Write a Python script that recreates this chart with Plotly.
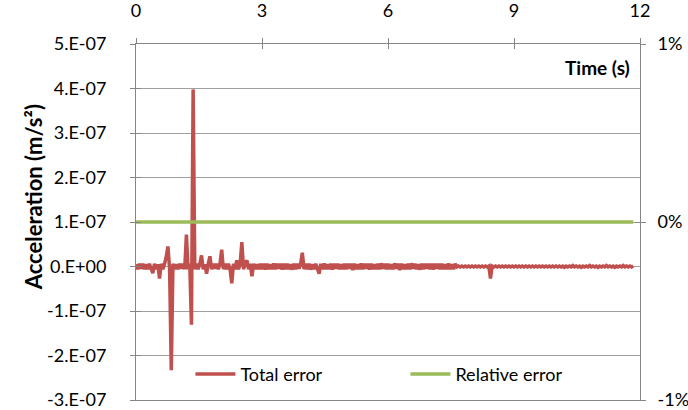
import numpy as np
import plotly.graph_objects as go

# Sample times (s), 25 Hz
time_s = np.round(np.arange(297) * 0.04, 2)

# Total acceleration error, in nm/s² (1e-9 m/s²), one row per second
total_error_nm = (
    [5, -6, 6, -5, 6, -6, 5, -6, 6, -5, -15, 6, -6, 5, -27, 6, -6, 6, 22, 45, -5, -233, 6, -6, 5]
    + [-6, 6, -5, 6, -6, 72, -6, 6, -131, 398, -6, 6, -6, 6, 25, -6, 5, -16, 6, 23, -6, 6, -5, 6, -6]
    + [6, 38, -6, 6, -6, 6, -6, -38, 6, -6, 14, -6, 6, 55, -6, 6, 14, -6, 6, -22, 6, -6, 5, -6, 6]
    + [-6, 6, -7, 6, -6, 5, -6, 7, -6, 6, -5, 6, -7, 6, -6, 6, -6, 5, -7, 6, -6, 6, -5, 6, 31]
    + [-6, 6, -6, 6, -7, 5, -6, 6, -5, -16, 6, -6, 7, -6, 5, -6, 6, -7, 6, -5, 6, -6, 5, -6, 6]
    + [-6, 6, -5, 6, -8, 6, -6, 5, -6, 7, -6, 6, -5, 6, -7, 6, -6, 5, -6, 6, -6, 7, -5, 6, -6]
    + [6, -6, 5, -6, 7, -5, 6, -8, 6, -6, 5, -6, 6, -6, 7, -5, 6, -6, 5, -7, 6, -6, 6, -5, 6]
    + [-6, 6, -7, 6, -5, 6, -6, 6, -6, 5, -6, 7, -6, 5, -6, 6, -1, 1, -1, 1, -1, 1, -1, 1, -1]
    + [1, -1, 1, -1, 1, -1, 1, -1, 1, -1, 1, -27, 1, -1, 1, -1, 1, -1, 1, -1, 1, -1, 1, -1, 1]
    + [-1, 1, -1, 1, -1, 1, -1, 1, -1, 1, -1, 1, -1, 1, -1, 1, -1, 1, -1, 1, -1, 1, -1, 1, -1]
    + [1, -1, 1, -1, 1, -2, 1, -1, 1, -1, 2, -1, 1, -1, 1, -2, 1, -1, 1, -1, 2, -1, 1, -1, 1]
    + [-2, 1, -1, 1, -1, 2, -1, 1, -1, 1, -2, 1, -1, 1, -1, 2, -1, 1, -1, 1, -1, 1]
)

# Relative error (fraction) over the same time span
rel_time_s = [0.0, 11.84]
rel_error = [0.0, 0.0]

# Axis ticks
x_ticks = [0, 3, 6, 9, 12]
y_ticks = [-3e-7, -2e-7, -1e-7, 0, 1e-7, 2e-7, 3e-7, 4e-7, 5e-7]
y_tick_text = ["-3.E-07", "-2.E-07", "-1.E-07", "0.E+00", "1.E-07",
               "2.E-07", "3.E-07", "4.E-07", "5.E-07"]
y2_ticks = [-0.01, 0, 0.01]
y2_tick_text = ["-1%", "0%", "1%"]

Y_RANGE = [-3e-7, 5e-7]
Y2_RANGE = [-0.01, 0.01]

FONT = "Lato"
AXIS = "#868686"
GRID = "#a0a0a0"
RED = "#C0504D"
GREEN = "#9BBB59"

fig = go.Figure()
fig.add_trace(go.Scatter(
    x=time_s, y=np.array(total_error_nm) * 1e-9, mode="lines",
    name="Total error", line=dict(color=RED, width=3.5, simplify=False),
))
fig.add_trace(go.Scatter(
    x=rel_time_s, y=rel_error, mode="lines", yaxis="y2",
    name="Relative error", line=dict(color=GREEN, width=3.5),
))
# empty traces so the tick-only overlay axes get drawn
fig.add_trace(go.Scatter(x=[None], y=[None], xaxis="x2", yaxis="y3",
                         showlegend=False, hoverinfo="skip"))
fig.add_trace(go.Scatter(x=[None], y=[None], xaxis="x2", yaxis="y4",
                         showlegend=False, hoverinfo="skip"))

tick_font = dict(family=FONT, size=18, color="#000000")

fig.update_layout(
    width=688, height=410,
    margin=dict(l=136, r=48, t=44, b=10, autoexpand=False),
    paper_bgcolor="white", plot_bgcolor="white",
    font=dict(family=FONT, size=18, color="#000000"),
    showlegend=True,
    legend=dict(
        orientation="h", x=0.108, y=0.02, xanchor="left", yanchor="bottom",
        bgcolor="rgba(0,0,0,0)", font=dict(family=FONT, size=18),
        entrywidth=160, itemwidth=40,
    ),
    xaxis=dict(
        side="top", range=[0, 12], tickvals=x_ticks, ticks="outside",
        ticklen=5, tickcolor=AXIS, showline=True, linecolor=AXIS,
        linewidth=1, mirror=True, showgrid=False, zeroline=False,
        tickfont=tick_font, ticklabelstandoff=14, anchor="y",
        automargin=False,
    ),
    xaxis2=dict(
        overlaying="x", side="top", range=[0, 12], tickvals=x_ticks,
        ticks="inside", ticklen=5, tickcolor=AXIS, showline=False,
        showticklabels=False, showgrid=False, zeroline=False, anchor="y",
        automargin=False,
    ),
    yaxis=dict(
        range=Y_RANGE, tickvals=y_ticks, ticktext=y_tick_text,
        ticks="outside", ticklen=5, tickcolor=AXIS, showline=True,
        linecolor=AXIS, linewidth=1, showgrid=True, gridcolor=GRID,
        gridwidth=1, zeroline=False, tickfont=tick_font,
        ticklabelstandoff=20, ticklabeloverflow="allow", automargin=False,
    ),
    yaxis2=dict(
        overlaying="y", side="right", range=Y2_RANGE,
        tickvals=y2_ticks, ticktext=y2_tick_text, ticks="outside",
        ticklen=5, tickcolor=AXIS, showline=True, linecolor=AXIS,
        linewidth=1, showgrid=False, zeroline=False, tickfont=tick_font,
        ticklabelstandoff=8, ticklabeloverflow="allow", automargin=False,
    ),
    yaxis3=dict(
        overlaying="y", side="left", range=Y_RANGE, tickvals=y_ticks,
        ticks="inside", ticklen=5, tickcolor=AXIS, showticklabels=False,
        showline=False, showgrid=False, zeroline=False, anchor="x2",
        automargin=False,
    ),
    yaxis4=dict(
        overlaying="y", side="right", range=Y2_RANGE, tickvals=y2_ticks,
        ticks="inside", ticklen=5, tickcolor=AXIS, showticklabels=False,
        showline=False, showgrid=False, zeroline=False, anchor="x2",
        automargin=False,
    ),
    annotations=[
        dict(text="<b>Time (s)</b>", xref="paper", yref="paper",
             x=0.985, y=0.935, xanchor="right", yanchor="middle",
             showarrow=False, font=dict(family=FONT, size=19)),
        dict(text="<b>Acceleration (m/s²)</b>", xref="paper", yref="paper",
             x=-0.204, y=0.57, xanchor="center", yanchor="middle",
             textangle=-90, showarrow=False, font=dict(family=FONT, size=22)),
    ],
)

fig.write_html("out.html")
